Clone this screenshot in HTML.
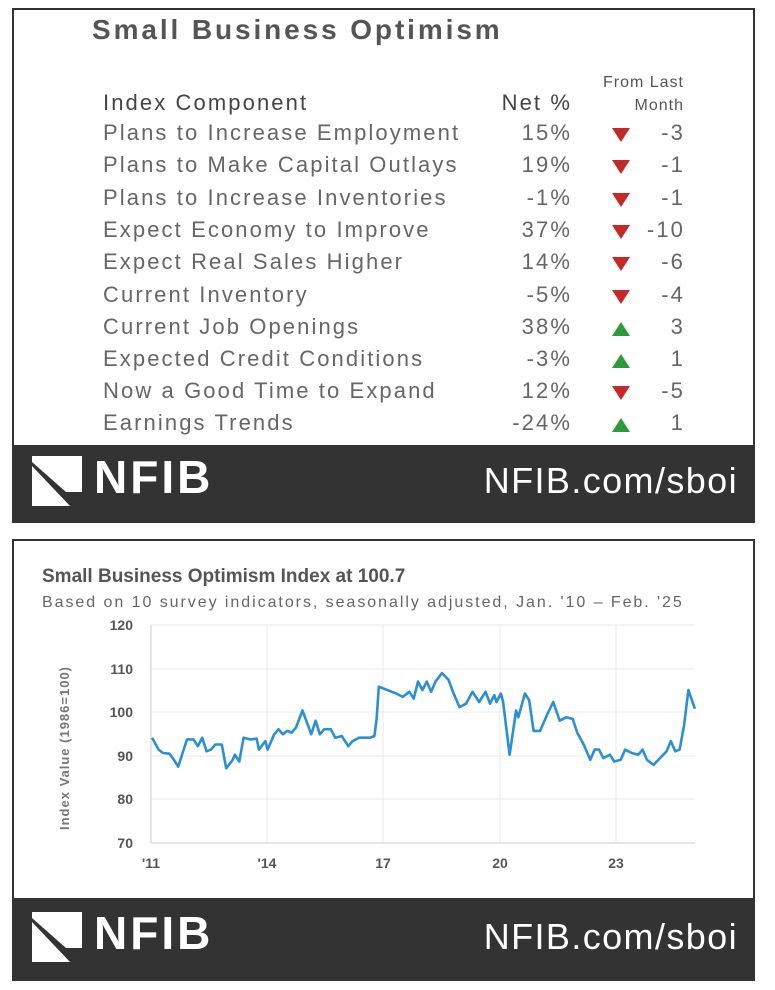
<!DOCTYPE html>
<html><head><style>
body{margin:0;width:775px;height:990px;background:#fff;font-family:"Liberation Sans",sans-serif;position:relative;overflow:hidden}
.abs{position:absolute}
.panel{position:absolute;left:12px;width:743px;border:2px solid #333;box-sizing:border-box;background:#fff}
.foot{position:absolute;left:0;right:0;background:#333}
.row{position:absolute;left:0;width:775px;height:32px;font-size:22px;color:#666;letter-spacing:2.1px}
.row span{position:absolute;top:0}
.lab{left:103px}
.net{right:203px;text-align:right}
.dlt{right:90px;text-align:right}
.tri{left:612px;top:8px!important;width:0;height:0}
.dn{border-left:9px solid transparent;border-right:9px solid transparent;border-top:14px solid #c62828}
.up{border-left:9px solid transparent;border-right:9px solid transparent;border-bottom:14px solid #2e9b3a}
.logo{position:absolute;font-weight:bold;color:#fff}
</style></head><body>
<div class="panel" style="top:8px;height:515px">
 <div class="foot" style="top:435px;height:76px"></div>
</div>
<div class="abs" style="left:92px;top:14px;font-size:28px;font-weight:bold;color:#555;letter-spacing:2.9px">Small Business Optimism</div>
<div class="abs" style="left:576px;top:71px;font-size:16px;color:#555;text-align:right;width:108px;line-height:23px;letter-spacing:1px">From Last<br>Month</div>
<div class="row" style="top:90px"><span class="lab" style="color:#444">Index Component</span><span class="net" style="color:#444">Net %</span></div>
<div class="row" style="top:120px"><span class="lab">Plans to Increase Employment</span><span class="net">15%</span><span class="tri dn"></span><span class="dlt">-3</span></div>
<div class="row" style="top:152px"><span class="lab">Plans to Make Capital Outlays</span><span class="net">19%</span><span class="tri dn"></span><span class="dlt">-1</span></div>
<div class="row" style="top:185px"><span class="lab">Plans to Increase Inventories</span><span class="net">-1%</span><span class="tri dn"></span><span class="dlt">-1</span></div>
<div class="row" style="top:217px"><span class="lab">Expect Economy to Improve</span><span class="net">37%</span><span class="tri dn"></span><span class="dlt">-10</span></div>
<div class="row" style="top:249px"><span class="lab">Expect Real Sales Higher</span><span class="net">14%</span><span class="tri dn"></span><span class="dlt">-6</span></div>
<div class="row" style="top:282px"><span class="lab">Current Inventory</span><span class="net">-5%</span><span class="tri dn"></span><span class="dlt">-4</span></div>
<div class="row" style="top:314px"><span class="lab">Current Job Openings</span><span class="net">38%</span><span class="tri up"></span><span class="dlt">3</span></div>
<div class="row" style="top:346px"><span class="lab">Expected Credit Conditions</span><span class="net">-3%</span><span class="tri up"></span><span class="dlt">1</span></div>
<div class="row" style="top:378px"><span class="lab">Now a Good Time to Expand</span><span class="net">12%</span><span class="tri dn"></span><span class="dlt">-5</span></div>
<div class="row" style="top:410px"><span class="lab">Earnings Trends</span><span class="net">-24%</span><span class="tri up"></span><span class="dlt">1</span></div>

<svg class="abs" style="left:32px;top:456px" width="50" height="50"><polygon points="0,0 50,0 50,36 34,36 0,6" fill="#fff"/><polygon points="0,10 38,50 0,50" fill="#fff"/></svg>
<div class="logo" style="left:94px;top:450px;font-size:46px;letter-spacing:3px">NFIB</div>
<div class="logo" style="right:37px;top:460px;font-size:36px;font-weight:normal;letter-spacing:1.4px">NFIB.com/sboi</div>

<div class="panel" style="top:539px;height:442px">
 <div class="foot" style="top:357px;height:81px"></div>
</div>
<div class="abs" style="left:42px;top:566px;font-size:19px;font-weight:bold;color:#555">Small Business Optimism Index at 100.7</div>
<div class="abs" style="left:42px;top:594px;font-size:16px;color:#666;letter-spacing:1.95px">Based on 10 survey indicators, seasonally adjusted, Jan. '10 – Feb. '25</div>
<svg class="abs" style="left:0;top:0" width="775" height="900" id="ch">
<g stroke="#e8e8e8" stroke-width="1">
<line x1="151" y1="625" x2="695" y2="625"/><line x1="151" y1="669" x2="695" y2="669"/><line x1="151" y1="712" x2="695" y2="712"/><line x1="151" y1="756" x2="695" y2="756"/><line x1="151" y1="799" x2="695" y2="799"/>
<line x1="267" y1="625" x2="267" y2="843"/><line x1="383" y1="625" x2="383" y2="843"/><line x1="500" y1="625" x2="500" y2="843"/><line x1="616" y1="625" x2="616" y2="843"/>
</g>
<line x1="151" y1="843" x2="695" y2="843" stroke="#ccc"/><line x1="151" y1="625" x2="151" y2="843" stroke="#ccc"/>
<g font-size="14" fill="#555" font-weight="bold" text-anchor="end">
<text x="133" y="630">120</text><text x="133" y="674">110</text><text x="133" y="717">100</text><text x="133" y="761">90</text><text x="133" y="804">80</text><text x="133" y="848">70</text></g>
<g font-size="14" fill="#555" font-weight="bold" text-anchor="middle">
<text x="151" y="868">'11</text><text x="267" y="868">'14</text><text x="383" y="868">17</text><text x="500" y="868">20</text><text x="616" y="868">23</text></g>
<text transform="translate(69,748) rotate(-90)" text-anchor="middle" font-size="13" font-weight="bold" fill="#777" letter-spacing="1">Index Value (1986=100)</text>
<polyline id="ln" fill="none" stroke="#2b8fd6" stroke-width="2.6" stroke-linejoin="round"/>
</svg>
<svg class="abs" style="left:32px;top:912px" width="50" height="50"><polygon points="0,0 50,0 50,36 34,36 0,6" fill="#fff"/><polygon points="0,10 38,50 0,50" fill="#fff"/></svg>
<div class="logo" style="left:94px;top:906px;font-size:46px;letter-spacing:3px">NFIB</div>
<div class="logo" style="right:37px;top:916px;font-size:36px;font-weight:normal;letter-spacing:1.4px">NFIB.com/sboi</div>
<script>
var d=[280,405,295,440,305,450,320,452,330,470,340,490,360,410,375,410,385,430,395,405,405,445,415,440,425,425,440,425,450,495,465,470,470,455,480,475,490,405,505,410,520,408,525,440,540,415,545,440,560,395,570,380,580,395,590,385,600,390,610,375,625,325,635,360,645,395,655,355,665,395,675,380,690,380,700,405,715,400,730,430,740,415,755,405,780,405,790,400,795,350,800,255,820,265,840,275,855,285,870,270,880,290,890,240,900,265,910,240,920,270,930,240,945,215,960,235,970,270,985,315,1000,305,1015,270,1030,300,1045,270,1055,305,1065,280,1070,300,1080,275,1085,300,1100,455,1115,325,1120,345,1135,275,1145,295,1155,385,1170,385,1185,340,1200,300,1215,355,1230,345,1245,350,1255,390,1270,425,1285,470,1295,440,1305,440,1315,465,1330,455,1340,475,1355,470,1365,440,1380,450,1395,455,1405,440,1415,470,1430,485,1445,465,1460,445,1470,415,1480,445,1490,440,1500,370,1510,265,1525,320];
var p=[];for(var i=0;i<d.length;i+=2){p.push((30+d[i]*0.436).toFixed(1)+","+(600+d[i+1]*0.340).toFixed(1));}
document.getElementById("ln").setAttribute("points",p.join(" "));
</script>
</body></html>
